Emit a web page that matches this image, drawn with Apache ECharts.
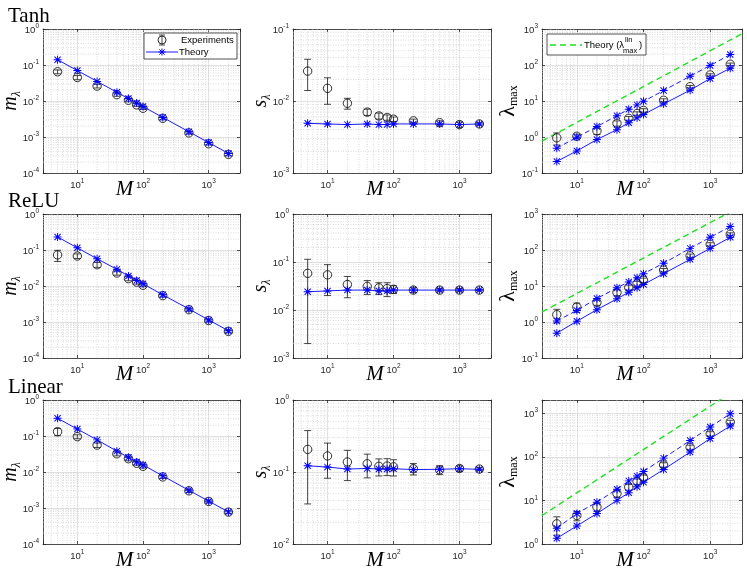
<!DOCTYPE html>
<html>
<head>
<meta charset="utf-8">
<script src="https://cdn.jsdelivr.net/npm/echarts@6/dist/echarts.min.js"></script>
<style>
  html, body { margin: 0; padding: 0; background: #fff; }
  #main { width: 747px; height: 570px; }
</style>
</head>
<body>
<div id="main"></div>
<script>
const chartDom = document.getElementById("main");
const myChart = echarts.init(chartDom);

// network sizes (x values of every panel)
const M = [5, 10, 20, 40, 60, 80, 100, 200, 500, 1000, 2000];
const xRange = [3, 3000];

// Tanh
const tanhMExp = [0.065, 0.045, 0.026, 0.015, 0.0105, 0.0078, 0.0063, 0.0033, 0.0013, 0.00065, 0.00033];
const tanhMErr = [0.008, 0.006, 0.003, 0.0015, 0.001, 0.0007, 0.0005, 0.0003, 0.0001, 0.00005, 0.00003];
const tanhMTh = [0.14, 0.07, 0.035, 0.0175, 0.0117, 0.0088, 0.007, 0.0035, 0.0014, 0.0007, 0.00035];
const tanhSExp = [0.026, 0.015, 0.0093, 0.007, 0.0062, 0.0059, 0.0056, 0.0053, 0.005, 0.0047, 0.0048];
const tanhSErr = [0.012, 0.006, 0.0016, 0.0007, 0.0006, 0.0005, 0.0004, 0.0003, 0.0003, 0.0004, 0.0002];
const tanhSTh = [0.0049, 0.0048, 0.0047, 0.0048, 0.0047, 0.0047, 0.0048, 0.0048, 0.0048, 0.0047, 0.0048];
const tanhLExp = [0.95, 1.05, 1.47, 2.4, 3.3, 4.5, 5.5, 10.5, 25, 53, 105];
const tanhLErr = [0.35, 0.15, 0.3, 0.4, 0.4, 0.5, 0.6, 1, 2, 4, 8];
const tanhLUp = [0.49, 0.98, 1.95, 3.9, 5.9, 7.8, 9.8, 19.5, 49, 97, 195];
const tanhLLo = [0.21, 0.41, 0.85, 1.6, 2.5, 3.4, 4.2, 8.3, 20, 42, 81];
const tanhLin = [0.77, 740];

// ReLU
const reluMExp = [0.073, 0.068, 0.039, 0.023, 0.016, 0.0128, 0.0105, 0.0054, 0.0022, 0.0011, 0.00055];
const reluMErr = [0.025, 0.01, 0.006, 0.003, 0.002, 0.0015, 0.001, 0.0005, 0.0002, 0.0001, 0.00005];
const reluMTh = [0.23, 0.115, 0.057, 0.029, 0.019, 0.0143, 0.0115, 0.0057, 0.0023, 0.00114, 0.00057];
const reluSExp = [0.058, 0.054, 0.034, 0.031, 0.029, 0.028, 0.027, 0.026, 0.026, 0.026, 0.026];
const reluSErr = [0.056, 0.034, 0.016, 0.01, 0.008, 0.009, 0.005, 0.003, 0.002, 0.002, 0.001];
const reluSTh = [0.024, 0.025, 0.026, 0.026, 0.025, 0.025, 0.026, 0.026, 0.026, 0.026, 0.026];
const reluLExp = [1.6, 2.6, 3.5, 6.6, 9.1, 11.5, 14.5, 27.6, 69, 144, 275];
const reluLErr = [0.65, 0.75, 0.6, 1.2, 1.5, 2, 2, 3, 8, 15, 25];
const reluLUp = [1.07, 2.1, 4.5, 8.9, 13, 17, 22, 43, 111, 225, 447];
const reluLLo = [0.49, 1.05, 2.2, 4.4, 6.7, 8.9, 11, 22, 55, 111, 225];
const reluLin = [1.9, 1700];

// Linear
const linMExp = [0.132, 0.096, 0.056, 0.032, 0.0234, 0.0175, 0.0144, 0.0073, 0.003, 0.00152, 0.00077];
const linMErr = [0.03, 0.012, 0.008, 0.004, 0.003, 0.002, 0.0015, 0.0007, 0.0003, 0.00015, 0.00007];
const linMTh = [0.31, 0.156, 0.078, 0.038, 0.0256, 0.019, 0.0157, 0.0078, 0.0031, 0.00155, 0.00078];
const linSExp = [0.206, 0.167, 0.138, 0.13, 0.12, 0.121, 0.118, 0.111, 0.107, 0.112, 0.11];
const linSErr = [0.17, 0.085, 0.062, 0.047, 0.032, 0.032, 0.03, 0.02, 0.015, 0.01, 0.005];
const linSTh = [0.122, 0.117, 0.11, 0.112, 0.11, 0.11, 0.111, 0.108, 0.109, 0.111, 0.109];
const linLExp = [2.9, 4.5, 7.1, 14.4, 20, 27, 33, 65, 164, 335, 624];
const linLErr = [1.3, 1.1, 1.5, 2.5, 3, 4, 5, 8, 20, 40, 60];
const linLUp = [2.3, 5.0, 9.1, 18, 28, 36, 46, 93, 235, 480, 970];
const linLLo = [1.35, 2.6, 5.0, 10, 15, 20.6, 26, 51, 128, 262, 505];
const linLin = [4.5, 4300];

const rowNames = ["Tanh", "ReLU", "Linear"];

const SANS = "'Liberation Sans', Arial, sans-serif";
const SERIF = "'Liberation Serif', 'Times New Roman', serif";
const BLUE = "#0000ff";
const GREEN = "#1fe01f";
const AX = "#262626";
const STAR =
  "path://M8.9,1H11.1V19H8.9Z M1,8.9H19V11.1H1Z " +
  "M2.22,3.78L3.78,2.22L17.78,16.22L16.22,17.78Z " +
  "M17.78,3.78L3.78,17.78L2.22,16.22L16.22,2.22Z";

const colX = [[43, 240], [293, 491], [542, 742]];
const rowY = [[29, 173], [214, 358], [400, 544]];

const panels = [
  { kind: "m", yMin: 1e-4, yMax: 1, exp: tanhMExp, err: tanhMErr, th: tanhMTh },
  { kind: "s", yMin: 1e-3, yMax: 1e-1, exp: tanhSExp, err: tanhSErr, th: tanhSTh },
  { kind: "l", yMin: 0.1, yMax: 1000, exp: tanhLExp, err: tanhLErr, up: tanhLUp, lo: tanhLLo, lin: tanhLin },
  { kind: "m", yMin: 1e-4, yMax: 1, exp: reluMExp, err: reluMErr, th: reluMTh },
  { kind: "s", yMin: 1e-3, yMax: 1, exp: reluSExp, err: reluSErr, th: reluSTh },
  { kind: "l", yMin: 0.1, yMax: 1000, exp: reluLExp, err: reluLErr, up: reluLUp, lo: reluLLo, lin: reluLin },
  { kind: "m", yMin: 1e-4, yMax: 1, exp: linMExp, err: linMErr, th: linMTh },
  { kind: "s", yMin: 1e-2, yMax: 1, exp: linSExp, err: linSErr, th: linSTh },
  { kind: "l", yMin: 1, yMax: 2000, exp: linLExp, err: linLErr, up: linLUp, lo: linLLo, lin: linLin },
];

const yNames = {
  m: "{i|m}{si|λ}",
  s: "{i|s}{si|λ}",
  l: "{g|λ}{sub|max}",
};
const nameRich = {
  i: { fontFamily: SERIF, fontStyle: "italic", fontSize: 20, lineHeight: 24, color: "#000" },
  si: { fontFamily: SERIF, fontStyle: "italic", fontSize: 12, lineHeight: 12, verticalAlign: "bottom", color: "#000" },
  g: { fontFamily: SERIF, fontSize: 22, lineHeight: 24, color: "#000" },
  sub: { fontFamily: SERIF, fontSize: 12, lineHeight: 12, verticalAlign: "bottom", color: "#000" },
};

// 10^n tick labels, blank for the non-decade extent ticks
function powLabel(v) {
  const e = Math.log10(v);
  const r = Math.round(e);
  if (Math.abs(e - r) > 1e-6) return "";
  return "{b|10}{p|" + r + "}";
}
const tickRich = {
  b: { fontFamily: SANS, fontSize: 9.5, lineHeight: 12, verticalAlign: "bottom", color: AX },
  p: { fontFamily: SANS, fontSize: 6.5, lineHeight: 7, verticalAlign: "top", color: AX },
};

// minor (dotted) grid lines at 2..9 x 10^k
function minorLines(yMin, yMax) {
  const out = [];
  for (let e = -5; e <= 4; e++) {
    for (let k = 2; k <= 9; k++) {
      const v = k * Math.pow(10, e);
      if (v > xRange[0] && v < xRange[1]) out.push([v, yMin, 0]);
      if (v > yMin && v < yMax) out.push([xRange[0], v, 1]);
    }
  }
  return out;
}
function gridItem(params, api) {
  const cs = params.coordSys;
  const pt = api.coord([api.value(0), api.value(1)]);
  const shape = api.value(2) === 0
    ? { x1: pt[0], y1: cs.y, x2: pt[0], y2: cs.y + cs.height }
    : { x1: cs.x, y1: pt[1], x2: cs.x + cs.width, y2: pt[1] };
  return { type: "line", shape: shape, style: { stroke: "#c2c2c2", lineWidth: 0.6, lineDash: [1, 1.5] } };
}

// circle marker with vertical error bar
function errItem(params, api) {
  const x = api.value(0), y = api.value(1), e = api.value(2);
  const c = api.coord([x, y]);
  const hi = api.coord([x, y + e])[1];
  const lo = api.coord([x, y - e])[1];
  const st = { stroke: "#1a1a1a", lineWidth: 0.8 };
  return {
    type: "group",
    children: [
      { type: "line", shape: { x1: c[0], y1: hi, x2: c[0], y2: lo }, style: st },
      { type: "line", shape: { x1: c[0] - 3.5, y1: hi, x2: c[0] + 3.5, y2: hi }, style: st },
      { type: "line", shape: { x1: c[0] - 3.5, y1: lo, x2: c[0] + 3.5, y2: lo }, style: st },
      { type: "circle", shape: { cx: c[0], cy: c[1], r: 4.2 }, style: { stroke: "#1a1a1a", lineWidth: 0.9, fill: "none" } },
    ],
  };
}

function pairs(ys) {
  return M.map((x, k) => [x, ys[k]]);
}

const grid = [];
const xAxis = [];
const yAxis = [];
const series = [];

panels.forEach((p, i) => {
  const r = Math.floor(i / 3), c = i % 3;
  grid.push({
    left: colX[c][0],
    top: rowY[r][0],
    width: colX[c][1] - colX[c][0],
    height: rowY[r][1] - rowY[r][0],
    containLabel: false,
    outerBoundsMode: "none",
  });
  const axisLine = { show: true, onZero: false, lineStyle: { color: AX, width: 0.8 } };
  const axisTick = { show: true, inside: true, length: 3, lineStyle: { color: AX, width: 0.8 } };
  xAxis.push({
    type: "log", gridIndex: i, position: "bottom",
    min: xRange[0], max: xRange[1],
    axisLine: axisLine, axisTick: axisTick,
    axisLabel: { formatter: powLabel, rich: tickRich, margin: 5 },
    splitLine: { show: true, lineStyle: { color: "#dadada", width: 0.8 } },
    name: "M", nameLocation: "middle", nameGap: 6, nameMoveOverlap: false,
    nameTextStyle: { fontFamily: SERIF, fontStyle: "italic", fontSize: 21, color: "#000", padding: [0, 34, 0, 0], verticalAlign: "top" },
  });
  xAxis.push({
    type: "log", gridIndex: i, position: "top",
    min: xRange[0], max: xRange[1],
    axisLine: axisLine, axisTick: axisTick,
    axisLabel: { show: false }, splitLine: { show: false },
  });
  yAxis.push({
    type: "log", gridIndex: i, position: "left",
    min: p.yMin, max: p.yMax,
    axisLine: axisLine, axisTick: axisTick,
    axisLabel: { formatter: powLabel, rich: tickRich, margin: 4, showMinLabel: true, showMaxLabel: true },
    splitLine: { show: true, lineStyle: { color: "#dadada", width: 0.8 } },
    name: yNames[p.kind], nameLocation: "middle", nameGap: p.kind === "l" ? 22 : 20, nameMoveOverlap: false,
    nameTextStyle: { rich: nameRich },
  });
  yAxis.push({
    type: "log", gridIndex: i, position: "right",
    min: p.yMin, max: p.yMax,
    axisLine: axisLine, axisTick: axisTick,
    axisLabel: { show: false }, splitLine: { show: false },
  });

  const xi = 2 * i, yi = 2 * i;
  series.push({
    type: "custom", xAxisIndex: xi, yAxisIndex: yi, silent: true, z: 1,
    data: minorLines(p.yMin, p.yMax), renderItem: gridItem,
  });
  if (p.kind === "l") {
    series.push({
      type: "line", xAxisIndex: xi, yAxisIndex: yi, silent: true, z: 2,
      data: [[xRange[0], p.lin[0]], [xRange[1], p.lin[1]]],
      symbol: "none", clip: true,
      lineStyle: { color: GREEN, width: 1.4, type: [6, 4] },
    });
  }
  series.push({
    type: "custom", xAxisIndex: xi, yAxisIndex: yi, silent: true, z: 3,
    data: M.map((x, k) => [x, p.exp[k], p.err[k]]), renderItem: errItem,
  });
  const starLine = (ys, dashed) => ({
    type: "line", xAxisIndex: xi, yAxisIndex: yi, silent: true, z: 4,
    data: pairs(ys), symbol: STAR, symbolSize: 8, clip: true,
    itemStyle: { color: BLUE },
    lineStyle: { color: BLUE, width: 0.9, type: dashed ? [5, 3] : "solid" },
  });
  if (p.kind === "l") {
    series.push(starLine(p.lo, false));
    series.push(starLine(p.up, true));
  } else {
    series.push(starLine(p.th, false));
  }
});

// small asterisk for the legend, drawn as four strokes
function legendStar(cx, cy, r) {
  const d = r * 0.75;
  const st = { stroke: BLUE, lineWidth: 1 };
  return [
    [cx - r, cy, cx + r, cy], [cx, cy - r, cx, cy + r],
    [cx - d, cy - d, cx + d, cy + d], [cx - d, cy + d, cx + d, cy - d],
  ].map((s) => ({ type: "line", z: 102, shape: { x1: s[0], y1: s[1], x2: s[2], y2: s[3] }, style: st }));
}

const legendText = { fontFamily: SANS, fontSize: 9.5, fill: "#000" };
const graphic = [];
rowNames.forEach((t, r) => {
  graphic.push({
    type: "text", x: 8, y: rowY[r][0] - 23,
    style: { text: t, fontFamily: SERIF, fontSize: 21, fill: "#000" },
  });
});
// legend of the first panel
graphic.push(
  { type: "rect", z: 100, shape: { x: 144, y: 33, width: 93, height: 26 }, style: { fill: "#fff", stroke: AX, lineWidth: 0.8 } },
  { type: "line", z: 101, shape: { x1: 162, y1: 35, x2: 162, y2: 45 }, style: { stroke: "#1a1a1a", lineWidth: 0.8 } },
  { type: "line", z: 101, shape: { x1: 159, y1: 35, x2: 165, y2: 35 }, style: { stroke: "#1a1a1a", lineWidth: 0.8 } },
  { type: "line", z: 101, shape: { x1: 159, y1: 45, x2: 165, y2: 45 }, style: { stroke: "#1a1a1a", lineWidth: 0.8 } },
  { type: "circle", z: 101, shape: { cx: 162, cy: 40, r: 4 }, style: { stroke: "#1a1a1a", lineWidth: 0.9, fill: "none" } },
  { type: "text", z: 101, x: 181, y: 40, style: Object.assign({ text: "Experiments", verticalAlign: "middle" }, legendText) },
  { type: "line", z: 101, shape: { x1: 146, y1: 52, x2: 178, y2: 52 }, style: { stroke: BLUE, lineWidth: 0.9 } },
  ...legendStar(162, 52, 3.5),
  { type: "text", z: 101, x: 179, y: 52, style: Object.assign({ text: "Theory", verticalAlign: "middle" }, legendText) }
);
// legend of the lambda_max panel
graphic.push(
  { type: "rect", z: 100, shape: { x: 547, y: 34, width: 99, height: 21 }, style: { fill: "#fff", stroke: AX, lineWidth: 0.8 } },
  { type: "line", z: 101, shape: { x1: 550, y1: 45, x2: 582, y2: 45 }, style: { stroke: GREEN, lineWidth: 1.4, lineDash: [6, 4] } },
  { type: "text", z: 101, x: 584, y: 45.5, style: Object.assign({ text: "Theory (λ", verticalAlign: "middle" }, legendText) },
  { type: "text", z: 101, x: 625, y: 40, style: { text: "lin", verticalAlign: "middle", fontFamily: SANS, fontSize: 7.5, fill: "#000" } },
  { type: "text", z: 101, x: 623, y: 50.5, style: { text: "max", verticalAlign: "middle", fontFamily: SANS, fontSize: 7.5, fill: "#000" } },
  { type: "text", z: 101, x: 639, y: 45.5, style: Object.assign({ text: ")", verticalAlign: "middle" }, legendText) }
);

const option = {
  animation: false,
  backgroundColor: "#fff",
  grid: grid,
  xAxis: xAxis,
  yAxis: yAxis,
  series: series,
  graphic: graphic,
};

option && myChart.setOption(option);
</script>
</body>
</html>
